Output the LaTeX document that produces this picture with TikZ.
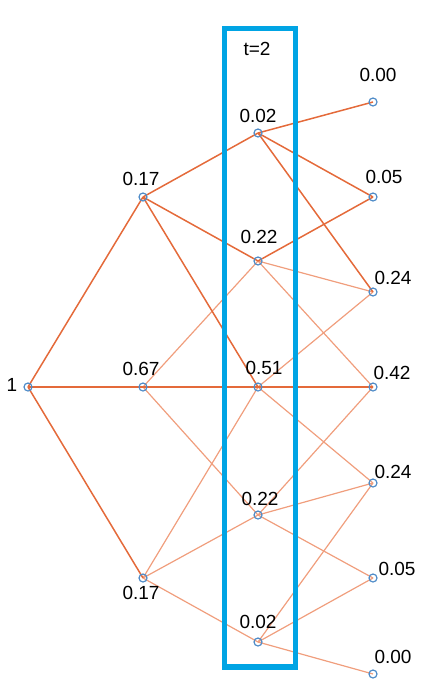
\documentclass[tikz,border=0pt]{standalone}
\usepackage{fontspec}
\setmainfont{Liberation Sans}
\definecolor{dkline}{RGB}{228,106,58}
\definecolor{ltline}{RGB}{240,158,125}
\definecolor{mkblue}{RGB}{80,140,200}
\definecolor{boxcyan}{RGB}{0,164,228}
\pgfdeclarelayer{bg}
\pgfsetlayers{bg,main}
\begin{document}
\begin{tikzpicture}[x=1pt,y=-1pt,
  mk/.style={circle,draw=mkblue,line width=1.2pt,minimum size=8pt,inner sep=0pt},
  lbl/.style={inner sep=0pt,font=\fontsize{19}{19}\selectfont},
  dk/.style={draw=dkline,line width=1.5pt},
  lt/.style={draw=ltline,line width=1.2pt}]
\useasboundingbox (0,0) rectangle (425,699);
% markers
\node[mk] (a0) at (28,387) {};
\node[mk] (b1) at (143,197) {};
\node[mk] (b2) at (143,387) {};
\node[mk] (b3) at (143,578) {};
\node[mk] (c1) at (258,133) {};
\node[mk] (c2) at (258,261) {};
\node[mk] (c3) at (258,387) {};
\node[mk] (c4) at (258,515) {};
\node[mk] (c5) at (258,642) {};
\node[mk] (d1) at (373,102) {};
\node[mk] (d2) at (373,197) {};
\node[mk] (d3) at (373,292) {};
\node[mk] (d4) at (373,387) {};
\node[mk] (d5) at (373,483) {};
\node[mk] (d6) at (373,578) {};
\node[mk] (d7) at (373,674) {};
% edges
\begin{pgfonlayer}{bg}
\foreach \u/\v in {b2/c2,b2/c4,b3/c3,b3/c4,b3/c5,c2/d3,c2/d4,c3/d3,c3/d5,c4/d4,c4/d5,c4/d6,c5/d5,c5/d6,c5/d7}
  \draw[lt] (\u.center) -- (\v.center);
\foreach \u/\v in {a0/b1,a0/b2,a0/b3,b1/c1,b1/c2,b1/c3,b2/c3,c1/d1,c1/d2,c1/d3,c2/d2,c3/d4}
  \draw[dk] (\u.center) -- (\v.center);
\end{pgfonlayer}
% window
\node[draw=boxcyan,line width=5.5pt,minimum width=71pt,minimum height=638.5pt,inner sep=0pt] (win) at (260,347.75) {};
\node[lbl] (tlab) at (257,49) {t=2};
% labels
\node[lbl] (la0) at (12,385) {1};
\node[lbl] (lb1) at (141,179) {0.17};
\node[lbl] (lb2) at (141,369) {0.67};
\node[lbl] (lb3) at (141,593) {0.17};
\node[lbl] (lc1) at (258,116) {0.02};
\node[lbl] (lc2) at (259,237) {0.22};
\node[lbl] (lc3) at (264,368) {0.51};
\node[lbl] (lc4) at (260,499) {0.22};
\node[lbl] (lc5) at (258,622) {0.02};
\node[lbl] (ld1) at (378,75) {0.00};
\node[lbl] (ld2) at (384,177) {0.05};
\node[lbl] (ld3) at (393,278) {0.24};
\node[lbl] (ld4) at (392,373) {0.42};
\node[lbl] (ld5) at (393,472) {0.24};
\node[lbl] (ld6) at (397,569) {0.05};
\node[lbl] (ld7) at (393,657) {0.00};
\end{tikzpicture}
\end{document}
